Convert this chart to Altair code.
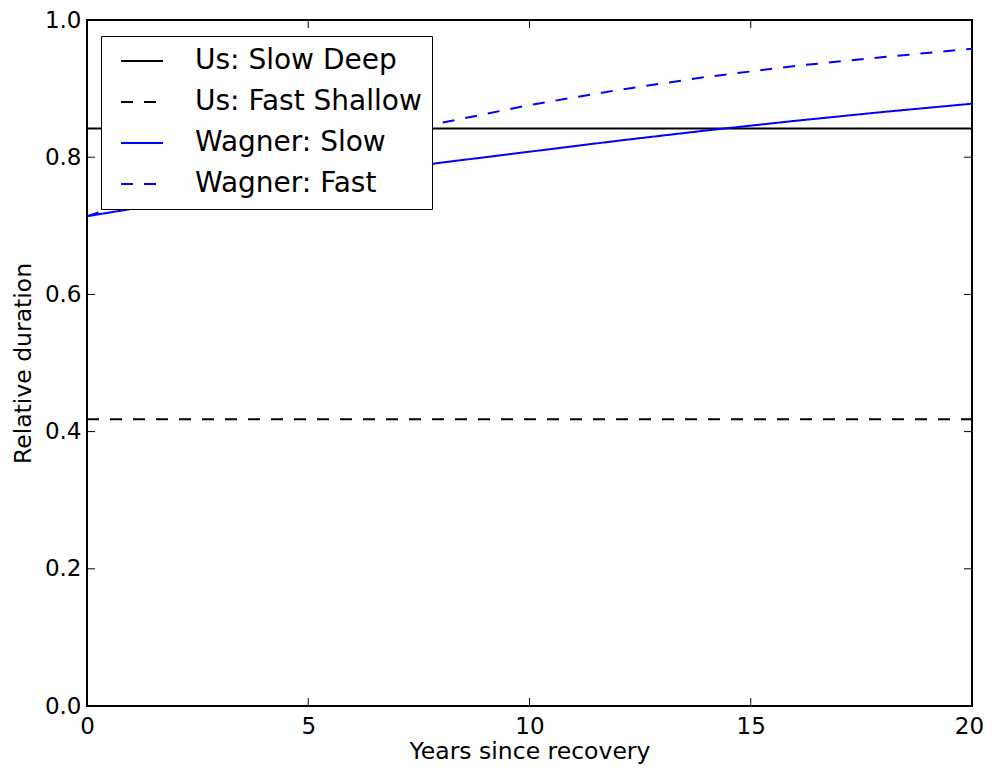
import altair as alt
import pandas as pd

years = [0, 2, 4, 6, 8, 10, 12, 14, 16, 18, 20]
wagner_slow = [0.714, 0.735, 0.755, 0.774, 0.792, 0.808, 0.824, 0.839, 0.853, 0.866, 0.878]
wagner_fast = [0.714, 0.755, 0.790, 0.822, 0.850, 0.876, 0.898, 0.917, 0.933, 0.946, 0.958]
us_slow_deep = 0.842
us_fast_shallow = 0.418

series_names = ["Us: Slow Deep", "Us: Fast Shallow", "Wagner: Slow", "Wagner: Fast"]
series_colors = ["#000000", "#000000", "#0000ff", "#0000ff"]
series_dashes = [[1, 0], [12, 11], [1, 0], [12, 11]]

x_ticks = [0, 5, 10, 15, 20]
y_ticks = [0.0, 0.2, 0.4, 0.6, 0.8, 1.0]

W, H = 885, 686
TL = 8

rows = []
for x in [0, 20]:
    rows.append({"series": "Us: Slow Deep", "x": x, "y": us_slow_deep})
    rows.append({"series": "Us: Fast Shallow", "x": x, "y": us_fast_shallow})
for x, s, f in zip(years, wagner_slow, wagner_fast):
    rows.append({"series": "Wagner: Slow", "x": x, "y": s})
    rows.append({"series": "Wagner: Fast", "x": x, "y": f})
df = pd.DataFrame(rows)
df["order"] = df["series"].map({n: i for i, n in enumerate(series_names)})

font = "DejaVu Sans"

xscale = alt.Scale(domain=[0, 20], nice=False, zero=False)
yscale = alt.Scale(domain=[0, 1.0], nice=False, zero=False)


def make_legend():
    return alt.Legend(title=None, orient="none", legendX=14, legendY=16,
                      symbolType="stroke", symbolSize=1764, symbolStrokeWidth=2,
                      symbolOffset=9,
                      labelFont=font, labelFontSize=28, labelColor="black",
                      labelOffset=31, labelLimit=400, clipHeight=30,
                      rowPadding=11, padding=10, strokeColor="black",
                      fillColor="white", cornerRadius=0)


lines = alt.Chart(df).mark_line(strokeWidth=2, clip=True).encode(
    x=alt.X("x:Q", scale=xscale, title="Years since recovery",
            axis=alt.Axis(values=x_ticks, format="d", ticks=False, domain=False, grid=False,
                          labelFlush=False, labelOverlap=False,
                          labelOffset={"condition": {"test": "datum.value == 20", "value": -3}, "value": 0},
                          labelFont=font, labelFontSize=23, labelColor="black", labelPadding=9,
                          titleFont=font, titleFontSize=23.5, titleFontWeight="normal",
                          titleColor="black", titlePadding=1)),
    y=alt.Y("y:Q", scale=yscale, title="Relative duration",
            axis=alt.Axis(values=y_ticks, format=".1f", ticks=False, domain=False, grid=False,
                          labelFlush=False, labelOverlap=False,
                          labelFont=font, labelFontSize=23, labelColor="black", labelPadding=6,
                          titleFont=font, titleFontSize=23.5, titleFontWeight="normal",
                          titleColor="black", titlePadding=9)),
    color=alt.Color("series:N", scale=alt.Scale(domain=series_names, range=series_colors),
                    legend=make_legend()),
    strokeDash=alt.StrokeDash("series:N", scale=alt.Scale(domain=series_names, range=series_dashes),
                              legend=make_legend()),
    order="order:Q",
    detail="series:N",
)

xt = pd.DataFrame({"t": x_ticks})
yt = pd.DataFrame({"t": y_ticks})

xb = alt.Chart(xt).mark_rule(color="black", strokeWidth=1).encode(
    x=alt.X("t:Q", scale=xscale), y=alt.value(H), y2=alt.value(H - TL))
xtop = alt.Chart(xt).mark_rule(color="black", strokeWidth=1).encode(
    x=alt.X("t:Q", scale=xscale), y=alt.value(0), y2=alt.value(TL))
yl = alt.Chart(yt).mark_rule(color="black", strokeWidth=1).encode(
    y=alt.Y("t:Q", scale=yscale), x=alt.value(0), x2=alt.value(TL))
yr = alt.Chart(yt).mark_rule(color="black", strokeWidth=1).encode(
    y=alt.Y("t:Q", scale=yscale), x=alt.value(W), x2=alt.value(W - TL))

chart = alt.layer(xb, xtop, yl, yr, lines).properties(
    width=W, height=H,
    autosize=alt.AutoSizeParams(type="none"),
    padding={"left": 79, "top": 12, "right": 12, "bottom": 60},
).configure(background="white").configure_view(stroke="black", strokeWidth=2, fill="white")

chart.save("out.html", embed_options={"renderer": "svg", "actions": False})
